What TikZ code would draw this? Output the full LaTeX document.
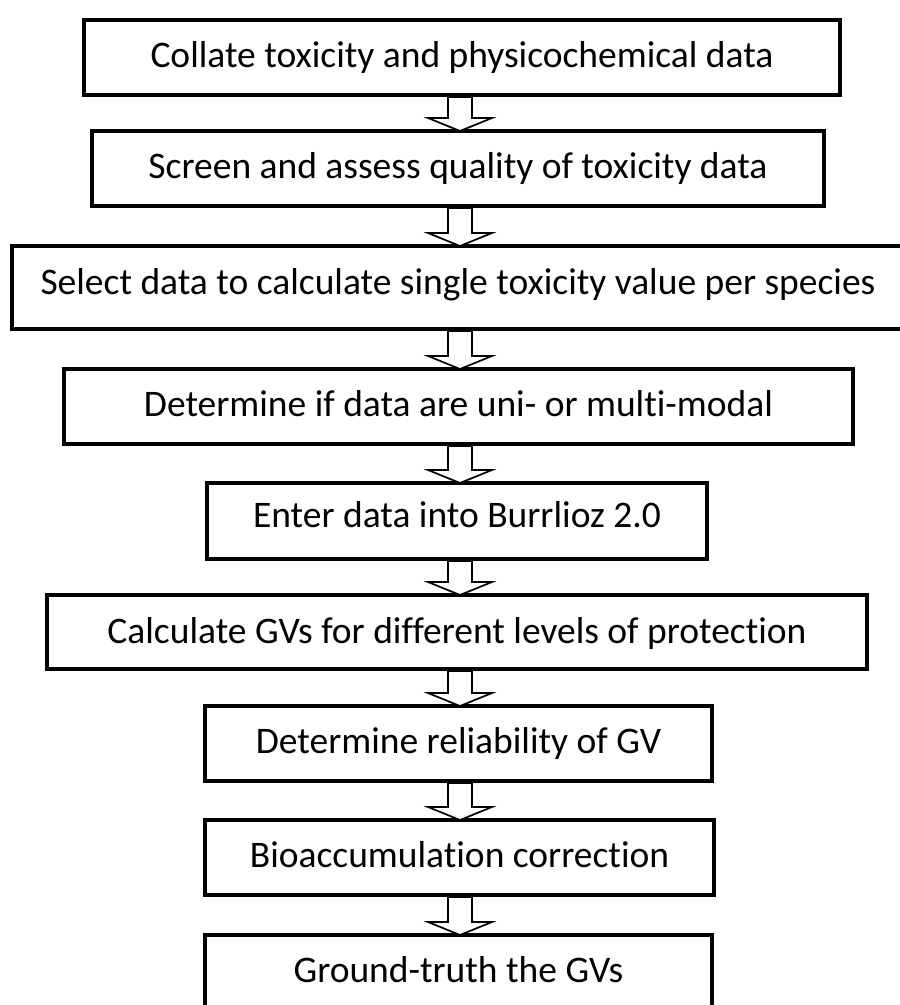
\documentclass[tikz,border=0pt]{standalone}
\usepackage{fontspec}
\setmainfont[Ligatures=NoCommon]{Carlito}
\usetikzlibrary{calc}
\tikzset{
  box/.style={draw=black, line width=4pt, fill=white, rectangle, inner sep=0pt, outer sep=0pt,
    font=\fontsize{37.5}{42}\selectfont, text depth=6pt, text height=25pt, align=center},
  barrow/.style={draw=black, fill=white, line width=1.7pt, line join=miter}
}
\newcommand\blockarrow[2]{%
  \path[barrow] let \p0=(ax), \p1=(#1.south), \p2=(#2.north) in
    (\x0-12pt,\y1-2pt) -- (\x0+12pt,\y1-2pt) -- (\x0+12pt,\y2+13pt) -- (\x0+32pt,\y2+13pt)
    -- (\x0,\y2) -- (\x0-32pt,\y2+13pt) -- (\x0-12pt,\y2+13pt) -- cycle;}
\begin{document}
\begin{tikzpicture}[x=1pt,y=-1pt]
\useasboundingbox (0,0) rectangle (900,1005);
\fill[white] (0,0) rectangle (900,1005);
\coordinate (ax) at (460,0);
\node[box, minimum width=756pt, minimum height=75pt] (b1) at (462,57.5) {Collate toxicity and physicochemical data};
\node[box, minimum width=732pt, minimum height=75pt] (b2) at (458,168.5) {Screen and assess quality of toxicity data};
\node[box, minimum width=892pt, minimum height=83pt, text height=19pt] (b3) at (458,287.5) {Select data to calculate single toxicity value per species};
\node[box, minimum width=789pt, minimum height=75pt] (b4) at (458.5,406.5) {Determine if data are uni- or multi-modal};
\node[box, minimum width=500pt, minimum height=76pt, text height=18pt] (b5) at (457,521) {Enter data into Burrlioz 2.0};
\node[box, minimum width=820pt, minimum height=74pt, text height=28pt] (b6) at (457,632) {Calculate GVs for different levels of protection};
\node[box, minimum width=507pt, minimum height=75pt] (b7) at (458.5,743.5) {Determine reliability of GV};
\node[box, minimum width=509pt, minimum height=75pt] (b8) at (459.5,857.5) {Bioaccumulation correction};
\node[box, minimum width=507pt, minimum height=75pt] (b9) at (458.5,972.5) {Ground-truth the GVs};
\blockarrow{b1}{b2}
\blockarrow{b2}{b3}
\blockarrow{b3}{b4}
\blockarrow{b4}{b5}
\blockarrow{b5}{b6}
\blockarrow{b6}{b7}
\blockarrow{b7}{b8}
\blockarrow{b8}{b9}
\end{tikzpicture}
\end{document}
